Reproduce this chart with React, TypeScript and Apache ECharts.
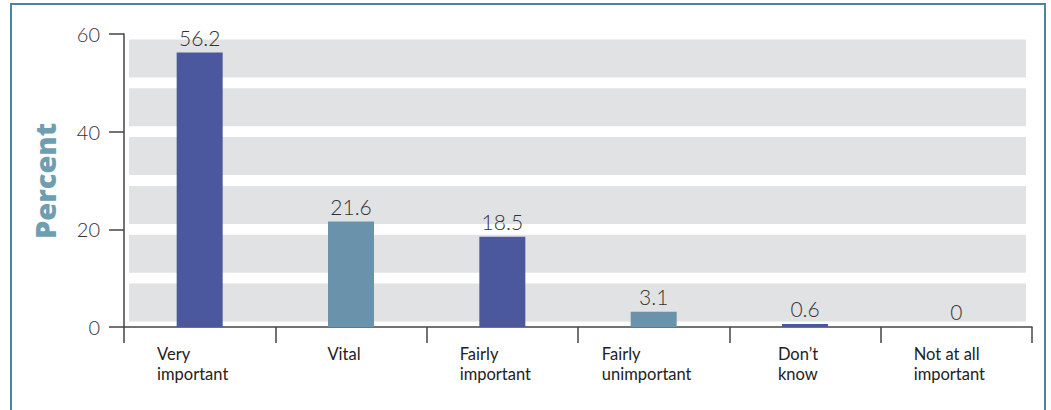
import React, { useEffect, useRef } from "react";
import * as echarts from "echarts";

const categories: string[] = [
  "Very\nimportant",
  "Vital",
  "Fairly\nimportant",
  "Fairly\nunimportant",
  "Don\u2019t\nknow",
  "Not at all\nimportant",
];
const values: number[] = [56.2, 21.6, 18.5, 3.1, 0.6, 0];
const barColors: string[] = ["#4c589e", "#6a93ab", "#4c589e", "#6a93ab", "#4c589e", "#6a93ab"];
const yTicks: number[] = [0, 20, 40, 60];
const bandIntervals: number[] = [0, 10, 20, 30, 40, 50];

const FONT = "Lato, 'Open Sans', sans-serif";

export default function App() {
  const ref = useRef<HTMLDivElement>(null);

  useEffect(() => {
    document.body.style.margin = "0";
    if (!ref.current) return;
    const chart = echarts.init(ref.current, undefined, { renderer: "svg" });

    const option: any = {
      animation: false,
      backgroundColor: "#ffffff",
      grid: { left: 124, right: 19, top: 34, bottom: 83 },
      graphic: [
        {
          type: "rect",
          shape: { x: 11, y: 4, width: 1034, height: 500 },
          style: { fill: "none", stroke: "#4a869c", lineWidth: 2 },
          silent: true,
        },
        {
          type: "text",
          x: 44,
          y: 181,
          rotation: Math.PI / 2,
          style: {
            text: "Percent",
            fill: "#6f9eb2",
            font: "800 29px 'Open Sans', Lato, sans-serif",
            textAlign: "center",
            textVerticalAlign: "middle",
          },
        },
      ],
      xAxis: {
        type: "category",
        data: categories,
        boundaryGap: true,
        axisLine: { lineStyle: { color: "#444", width: 1.5 } },
        axisTick: { show: true, length: 16, alignWithLabel: false, lineStyle: { color: "#444", width: 1.5 } },
        axisLabel: {
          margin: 17,
          interval: 0,
          padding: [0, 14, 0, 0],
          formatter: (v: string) =>
            v
              .split("\n")
              .map((l) => "{a|" + l + "}")
              .join("\n"),
          rich: {
            a: {
              align: "left",
              fontSize: 16.5,
              lineHeight: 20,
              color: "#222",
              fontFamily: FONT,
            },
          },
          align: "center",
        },
        splitLine: { show: false },
      },
      yAxis: {
        type: "value",
        min: 0,
        max: 60,
        interval: 20,
        axisLine: { show: true, lineStyle: { color: "#444", width: 1.5 } },
        axisTick: { show: true, length: 15, lineStyle: { color: "#444", width: 1.5 } },
        axisLabel: {
          margin: 24,
          fontSize: 20,
          fontWeight: 300,
          color: "#333",
          fontFamily: FONT,
          formatter: (v: number) => (yTicks.includes(v) ? String(v) : ""),
        },
        splitLine: { show: false },
      },
      series: [
        {
          type: "custom",
          z: 1,
          silent: true,
          data: bandIntervals.map((b) => [0, b, b + 10]),
          renderItem: (params: any, api: any) => {
            const cs = params.coordSys;
            const yTop = api.coord([0, api.value(2)])[1] + 5.4;
            const yBot = api.coord([0, api.value(1)])[1] - 5.4;
            return {
              type: "rect",
              shape: { x: cs.x + 5, y: yTop, width: cs.width - 6 - 5, height: yBot - yTop },
              style: { fill: "#e1e2e4" },
            };
          },
        },
        {
          type: "bar",
          z: 3,
          barWidth: 46,
          data: values.map((v, i) => ({ value: v, itemStyle: { color: barColors[i] } })),
          label: {
            show: true,
            position: "top",
            distance: 5,
            fontSize: 21,
            fontWeight: 300,
            color: "#333",
            fontFamily: FONT,
          },
        },
      ],
    };

    chart.setOption(option);
    return () => chart.dispose();
  }, []);

  return (
    <div
      ref={ref}
      style={{ position: "absolute", left: 0, top: 0, width: 1051, height: 410 }}
    />
  );
}
